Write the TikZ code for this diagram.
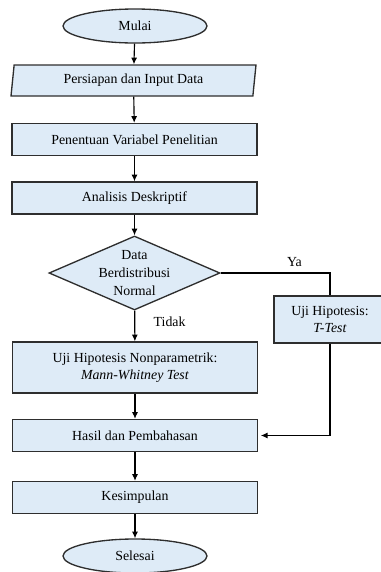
\documentclass[tikz,border=0pt]{standalone}
\usepackage{fontspec}
\setmainfont{Liberation Serif}
\newfontfamily\timesfont{Liberation Serif}
\usetikzlibrary{positioning, shapes.geometric, arrows.meta}
\definecolor{boxfill}{HTML}{DEEBF7}
\definecolor{boxline}{HTML}{2E2E2E}

\begin{document}
\begin{tikzpicture}[
		x=0.75pt, y=-0.75pt,
		font=\timesfont\fontsize{10.4}{13.2}\selectfont,
		base/.style={draw=boxline, fill=boxfill, line width=1pt, align=center, inner sep=0pt},
		terminal/.style={base, ellipse, minimum width=108pt, minimum height=25.5pt},
		io/.style={base, trapezium, trapezium left angle=76, trapezium right angle=104,
			trapezium stretches body, minimum width=183.75pt, minimum height=23.25pt},
		process/.style={base, rectangle, minimum width=183.75pt, minimum height=24pt},
		decision/.style={base, diamond, minimum width=128.25pt, minimum height=55.5pt},
		arr/.style={draw, line width=0.85pt, -{Latex[length=5pt, width=4.5pt]}},
		link/.style={draw, line width=0.85pt}
		]
		\useasboundingbox (0,0) rectangle (381,572);
		
		% ==========================================
		% 1. Main flow
		% ==========================================
		\node[terminal] (mulai) at (135, 26) {Mulai};
		\node[io] (input) at (133.5, 80.5) {Persiapan dan Input Data};
		\node[process] (variabel) at (134.5, 139.5) {Penentuan Variabel Penelitian};
		\node[process] (deskriptif) at (134.5, 198) {Analisis Deskriptif};
		
		% Normality check
		\node[decision, label={[align=center]center:Data\\Berdistribusi\\Normal}] (normal) at (134.5, 273) {};
		
		\node[process, minimum height=38.25pt] (mann) at (135, 367.5)
		{Uji Hipotesis Nonparametrik:\\\textit{Mann-Whitney Test}};
		\node[process] (hasil) at (135, 435.5) {Hasil dan Pembahasan};
		\node[process] (simpulan) at (135, 497.5) {Kesimpulan};
		\node[terminal] (selesai) at (135, 556) {Selesai};
		
		% ==========================================
		% 2. Side branch
		% ==========================================
		\node[process, minimum width=84pt, minimum height=35.25pt] (ttest) at (330, 319.5)
		{Uji Hipotesis:\\\textit{T-Test}};
		
		% Labels
		\node[anchor=west] (tidak) at (149, 322) {Tidak};
		\node (ya) at (294.5, 262) {Ya};
		
		% ==========================================
		% 3. Connectors
		% ==========================================
		\draw[arr] (mulai) -- (input);
		\draw[arr] (input) -- (variabel);
		\draw[arr] (variabel) -- (deskriptif);
		\draw[arr] (deskriptif) -- (normal);
		\draw[arr] (normal) -- (mann);
		\draw[link] (normal.east) -| (ttest.north);
		\draw[arr] (mann) -- (hasil);
		\draw[arr, shorten >=2pt] (ttest.south) |- (hasil.east);
		\draw[arr] (hasil) -- (simpulan);
		\draw[arr] (simpulan) -- (selesai);
		
	\end{tikzpicture}
\end{document}
